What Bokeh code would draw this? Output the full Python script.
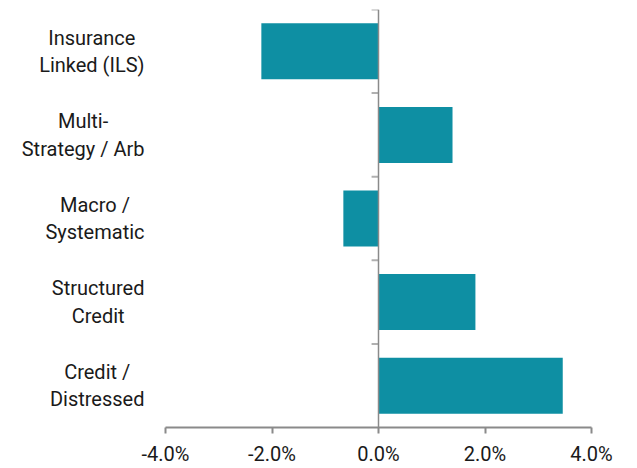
from bokeh.plotting import figure
from bokeh.models import Range1d, FixedTicker, PrintfTickFormatter, Span, ColumnDataSource, Label
from bokeh.embed import file_html
from bokeh.resources import INLINE

categories = ["Insurance\nLinked (ILS)", "Multi-\nStrategy / Arb", "Macro /\nSystematic",
              "Structured\nCredit", "Credit /\nDistressed"]
returns_pct = [-2.2, 1.39, -0.66, 1.82, 3.46]
x_ticks = [-4, -2, 0, 2, 4]

n = len(categories)
ypos = [n - 1 - i for i in range(n)]
bar_color = "#0E8FA3"
axis_gray = "#8a8a8a"
font = "Roboto"

# layout: axis span from x=165px to x=591px; frame starts at canvas left
axis_left_px, axis_right_px = 165, 591
px_per_unit = (axis_right_px - axis_left_px) / (x_ticks[-1] - x_ticks[0])
x_start = x_ticks[0] - axis_left_px / px_per_unit

p = figure(width=637, height=468, output_backend="svg", toolbar_location=None,
           x_range=Range1d(x_start, x_ticks[-1]), y_range=Range1d(-0.5, n - 0.5),
           y_axis_location=None,
           min_border_left=0, min_border_right=637 - axis_right_px, min_border_top=9, min_border_bottom=41)
p.outline_line_color = None
p.grid.visible = False

src = ColumnDataSource(dict(y=ypos, v=returns_pct))
p.hbar(y="y", left=0, right="v", height=0.67, source=src, fill_color=bar_color, line_color=None)

p.add_layout(Span(location=0, dimension="height", line_color=axis_gray, line_width=1.5))
p.segment(x0=[-0.13] * n, x1=[0] * n, y0=[y + 0.5 for y in ypos], y1=[y + 0.5 for y in ypos],
          line_color="#b0b0b0", line_width=2)

xa = p.xaxis[0]
xa.bounds = (x_ticks[0], x_ticks[-1])
xa.ticker = FixedTicker(ticks=x_ticks, minor_ticks=[])
xa.formatter = PrintfTickFormatter(format="%.1f%%")
xa.axis_line_color = axis_gray
xa.axis_line_width = 2
xa.major_tick_line_color = axis_gray
xa.major_tick_line_width = 2
xa.major_tick_out = 6
xa.major_tick_in = 0
xa.minor_tick_line_color = None
xa.major_label_standoff = 8
xa.major_label_text_font = font
xa.major_label_text_font_size = "20px"
xa.major_label_text_color = "#1a1a1a"

for y, c in zip(ypos, categories):
    p.add_layout(Label(x=x_ticks[0], y=y, x_offset=-21, text=c, anchor="center_right",
                       text_align="center", text_baseline="middle", text_font=font,
                       text_font_size="20px", text_line_height=1.15, text_color="#1a1a1a"))

open("out.html", "w").write(file_html(p, INLINE))
